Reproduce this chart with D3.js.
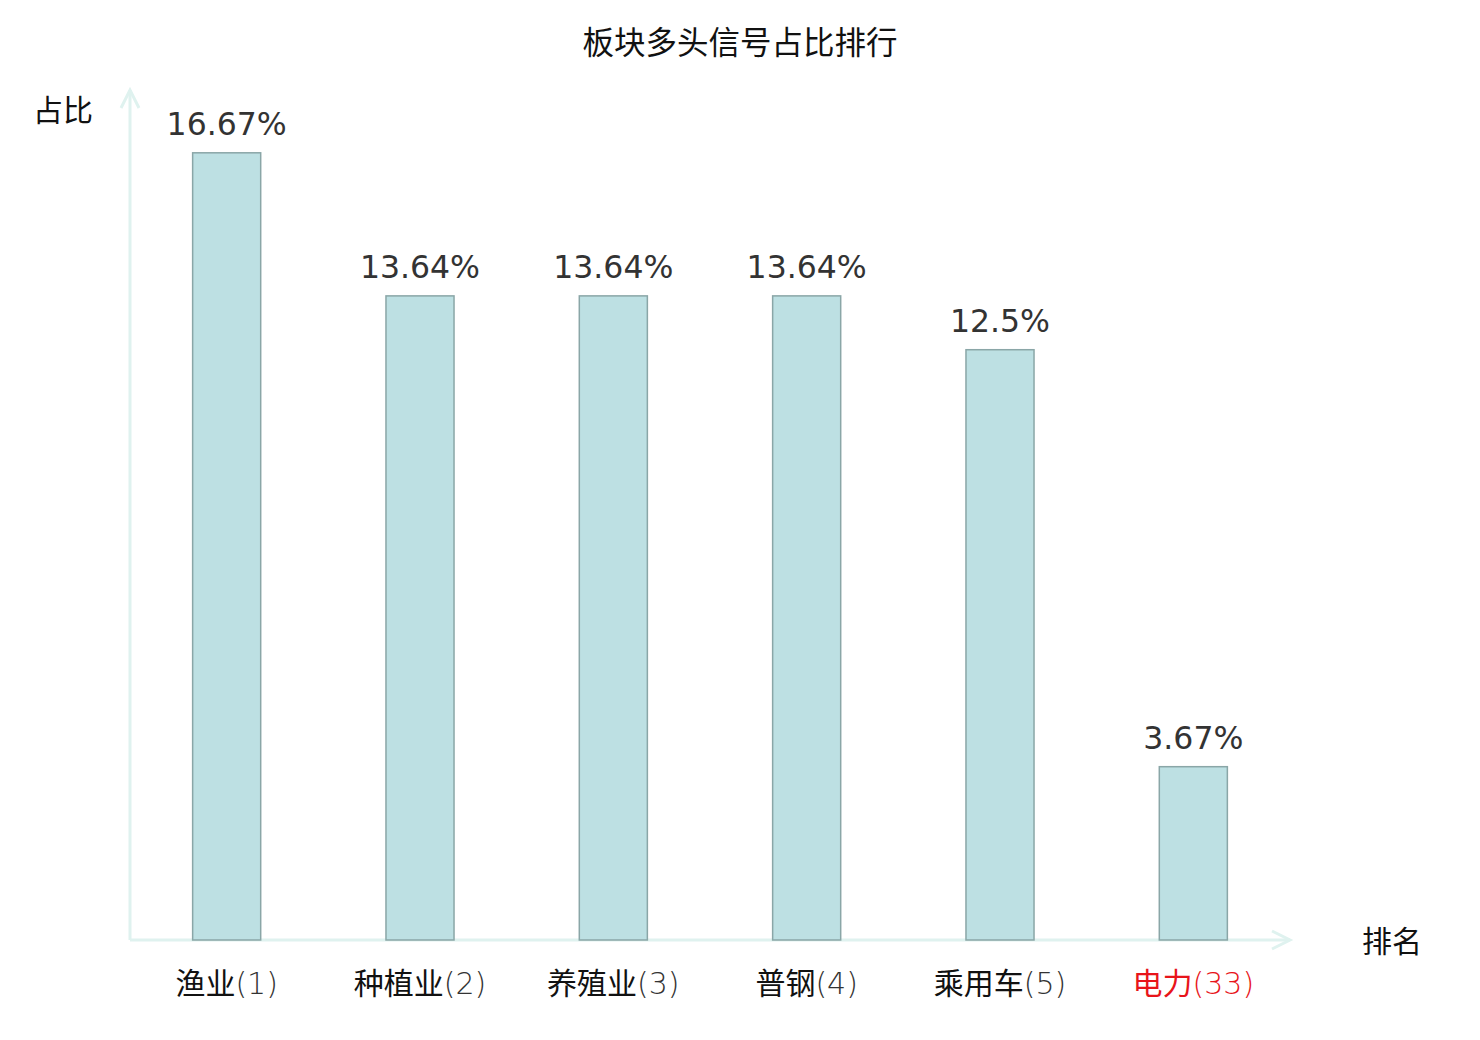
<!DOCTYPE html>
<html>
<head>
<meta charset="utf-8">
<script src="https://cdn.jsdelivr.net/npm/d3@7"></script>
<style>
  body { margin: 0; background: #fff; }
  svg text { font-family: "DejaVu Sans", sans-serif; }
  .cjk { font-family: "Noto Sans CJK SC", sans-serif; }
</style>
</head>
<body>
<svg id="chart" width="1480" height="1040"></svg>
<script>
// data
const categories = ["渔业", "种植业", "养殖业", "普钢", "乘用车", "电力"];
const ranks = [1, 2, 3, 4, 5, 33];
const values = [16.67, 13.64, 13.64, 13.64, 12.5, 3.67];
const highlight = "电力";

const title = "板块多头信号占比排行";
const yName = "占比";
const xName = "排名";

const margin = { left: 130, right: 190, top: 90, bottom: 100 };
const width = 1480, height = 1040;

const svg = d3.select("#chart");

const x = d3.scaleBand()
    .domain(categories)
    .range([margin.left, width - margin.right])
    .paddingInner(0.648)
    .paddingOuter(0.324);

const y = d3.scaleLinear()
    .domain([0, 18])
    .range([height - margin.bottom, margin.top]);

const axisColor = "#dff2ef";
const baseY = y(0);

// axes with arrows
svg.append("line")
    .attr("x1", margin.left).attr("x2", width - margin.right)
    .attr("y1", baseY).attr("y2", baseY)
    .attr("stroke", axisColor).attr("stroke-width", 3);
svg.append("path")
    .attr("d", `M${width - margin.right - 18},${baseY - 9}L${width - margin.right},${baseY}L${width - margin.right - 18},${baseY + 9}`)
    .attr("fill", "none").attr("stroke", axisColor).attr("stroke-width", 3);

svg.append("line")
    .attr("x1", margin.left).attr("x2", margin.left)
    .attr("y1", baseY).attr("y2", margin.top)
    .attr("stroke", axisColor).attr("stroke-width", 3);
svg.append("path")
    .attr("d", `M${margin.left - 9},${margin.top + 18}L${margin.left},${margin.top}L${margin.left + 9},${margin.top + 18}`)
    .attr("fill", "none").attr("stroke", axisColor).attr("stroke-width", 3);

// bars
svg.append("g").selectAll("rect")
    .data(values)
    .join("rect")
    .attr("x", (d, i) => x(categories[i]))
    .attr("y", d => y(d))
    .attr("width", x.bandwidth())
    .attr("height", d => baseY - y(d))
    .attr("fill", "#bde0e3")
    .attr("stroke", "#8aa6a7")
    .attr("stroke-width", 1.5);

// value labels
svg.append("g").selectAll("text")
    .data(values)
    .join("text")
    .attr("x", (d, i) => x(categories[i]) + x.bandwidth() / 2)
    .attr("y", d => y(d) - 18)
    .attr("text-anchor", "middle")
    .attr("font-size", 31.5)
    .attr("fill", "#333")
    .text(d => d + "%");

// category labels
const lab = svg.append("g").selectAll("text")
    .data(categories)
    .join("text")
    .attr("x", d => x(d) + x.bandwidth() / 2)
    .attr("y", baseY + 54)
    .attr("text-anchor", "middle")
    .attr("font-size", 30)
    .attr("fill", d => d === highlight ? "#e8141a" : "#111");
lab.append("tspan").attr("class", "cjk").text(d => d);
lab.append("tspan")
    .attr("font-weight", 200)
    .attr("fill", d => d === highlight ? "#e8141a" : "#333")
    .text((d, i) => "(" + ranks[i] + ")");

// title and axis names
svg.append("text").attr("class", "cjk")
    .attr("x", 740).attr("y", 54)
    .attr("text-anchor", "middle")
    .attr("font-size", 31.5).attr("fill", "#111")
    .text(title);

svg.append("text").attr("class", "cjk")
    .attr("x", 63).attr("y", 121)
    .attr("text-anchor", "middle")
    .attr("font-size", 30).attr("fill", "#111")
    .text(yName);

svg.append("text").attr("class", "cjk")
    .attr("x", 1392).attr("y", 952)
    .attr("text-anchor", "middle")
    .attr("font-size", 30).attr("fill", "#111")
    .text(xName);
</script>
</body>
</html>
